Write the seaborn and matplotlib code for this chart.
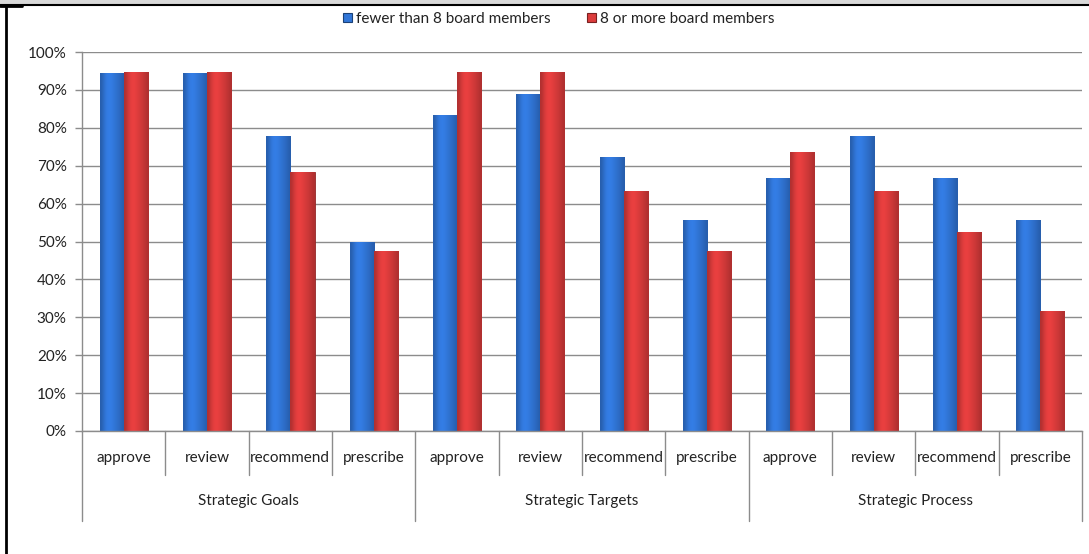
import matplotlib
matplotlib.use("Agg")
import matplotlib.pyplot as plt
import matplotlib.transforms as mtransforms
from matplotlib.lines import Line2D
from matplotlib.patches import Rectangle
import numpy as np
import seaborn as sns
import pandas as pd

groups = ["Strategic Goals", "Strategic Targets", "Strategic Process"]
actions = ["approve", "review", "recommend", "prescribe"]
series_names = ["fewer than 8 board members", "8 or more board members"]
fewer_than_8 = [94.4, 94.4, 77.8, 50.0, 83.3, 88.9, 72.2, 55.6, 66.7, 77.8, 66.7, 55.6]
eight_or_more = [94.7, 94.7, 68.4, 47.4, 94.7, 94.7, 63.2, 47.4, 73.7, 63.2, 52.6, 31.6]
y_ticks = list(range(0, 101, 10))

slots = [f"{g}|{a}" for g in groups for a in actions]
df = pd.DataFrame({
    "slot": slots * 2,
    "value": [v / 100 for v in fewer_than_8 + eight_or_more],
    "series": [series_names[0]] * len(slots) + [series_names[1]] * len(slots),
})

sns.set_style("white")
plt.rcParams["font.family"] = ["Lato", "DejaVu Sans"]
text_color = "#222222"
line_color = "#8c8c8c"
fs = 11

fig = plt.figure(figsize=(10.89, 5.54), dpi=100)
W, H = 1089, 554
ax = fig.add_axes([82 / W, 1 - 431 / H, 1000 / W, 379 / H])

base_colors = {series_names[0]: "#3176d8", series_names[1]: "#dc3c3c"}
sns.barplot(data=df, x="slot", y="value", hue="series", order=slots,
            hue_order=series_names, palette=base_colors, width=0.58,
            saturation=1, ax=ax, legend=True, edgecolor="none")

# shaded, rounded-look fill for each bar
profile = np.array([0.80, 0.95, 1.05, 1.07, 1.03, 0.98, 0.93, 0.87, 0.80])
for patch in ax.patches:
    h = patch.get_height()
    if h <= 0:
        continue
    rgb = np.array(patch.get_facecolor()[:3])
    grad = np.clip(rgb[None, :] * profile[:, None], 0, 1)[None, :, :]
    x0, w = patch.get_x(), patch.get_width()
    im = ax.imshow(grad, extent=[x0, x0 + w, 0, h], aspect="auto",
                   interpolation="bicubic", zorder=patch.get_zorder() + 0.1)
    im.set_clip_path(patch)
    patch.set_edgecolor(tuple(rgb * 0.65))
    patch.set_linewidth(0.6)

ax.set_xlim(-0.5, len(slots) - 0.5)
ax.set_ylim(0, 1)
ax.set_yticks([t / 100 for t in y_ticks])
ax.set_yticklabels([f"{t}%" for t in y_ticks], fontsize=fs, color=text_color)
ax.tick_params(axis="y", length=5, width=1, color=line_color, pad=6, direction="out", left=True)
ax.set_xticks([])
ax.set_xlabel("")
ax.set_ylabel("")
ax.yaxis.grid(True, color=line_color, linewidth=1)
ax.set_axisbelow(True)
for side in ["top", "right"]:
    ax.spines[side].set_visible(False)
for side in ["left", "bottom"]:
    ax.spines[side].set_color(line_color)
    ax.spines[side].set_linewidth(1)

# hierarchical category axis below the plot
trans = mtransforms.blended_transform_factory(ax.transData, ax.transAxes)
ax_h = 379.0
short_drop = -44 / ax_h
long_drop = -90 / ax_h
for i in range(1, len(slots)):
    if i % len(actions) == 0:
        continue
    ax.add_line(Line2D([i - 0.5, i - 0.5], [0, short_drop], transform=trans,
                       color=line_color, linewidth=1, clip_on=False))
for g in range(len(groups) + 1):
    xg = g * len(actions) - 0.5
    ax.add_line(Line2D([xg, xg], [0, long_drop], transform=trans,
                       color=line_color, linewidth=1, clip_on=False))
for i, s in enumerate(slots):
    ax.text(i, -27 / ax_h, s.split("|")[1], transform=trans, ha="center", va="center",
            fontsize=fs, color=text_color, clip_on=False)
for g, name in enumerate(groups):
    ax.text(g * len(actions) + (len(actions) - 1) / 2, -70 / ax_h, name, transform=trans,
            ha="center", va="center", fontsize=fs, color=text_color, clip_on=False)

leg = ax.legend(loc="center", bbox_to_anchor=(559 / W, 1 - 19 / H), bbox_transform=fig.transFigure,
                ncol=2, frameon=False, fontsize=fs, handlelength=0.55, handleheight=0.55,
                handletextpad=0.3, columnspacing=2.4, labelcolor=text_color)
for handle in leg.legend_handles:
    fc = handle.get_facecolor()
    handle.set_edgecolor(tuple(np.array(fc[:3]) * 0.55))
    handle.set_linewidth(0.8)

# window frame
fig.add_artist(Rectangle((0, 1 - 4 / H), 1, 4 / H, transform=fig.transFigure,
                         facecolor="#d9d9d9", edgecolor="none"))
fig.add_artist(Line2D([0, 1], [1 - 5 / H, 1 - 5 / H], transform=fig.transFigure,
                      color="black", linewidth=1.5))
fig.add_artist(Line2D([6 / W, 6 / W], [0, 1 - 5 / H], transform=fig.transFigure,
                      color="black", linewidth=2))
fig.add_artist(Line2D([0, 22 / W], [1 - 5.5 / H, 1 - 5.5 / H], transform=fig.transFigure,
                      color="black", linewidth=2))

fig.savefig("out.png", dpi=100)
